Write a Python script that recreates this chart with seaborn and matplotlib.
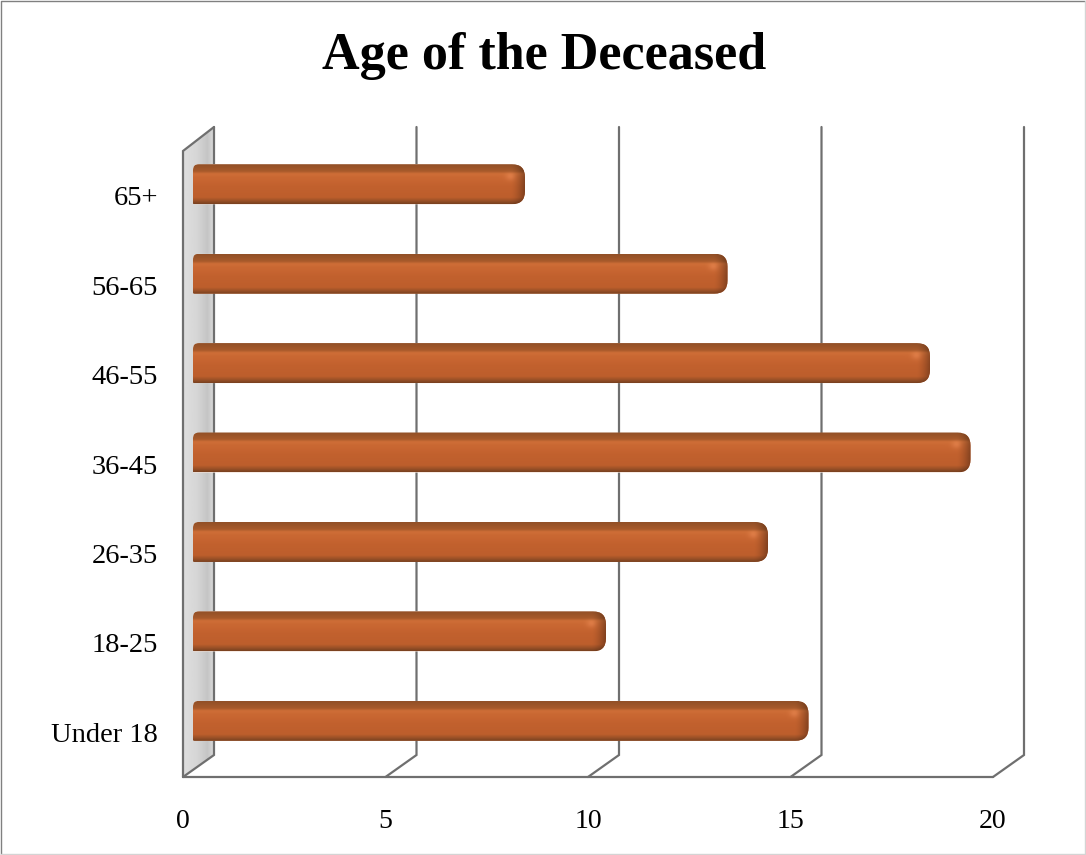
import numpy as np
import pandas as pd
import seaborn as sns
import matplotlib
matplotlib.use("Agg")
import matplotlib.pyplot as plt
from matplotlib.path import Path
from matplotlib.patches import PathPatch, Polygon
from matplotlib.lines import Line2D
from matplotlib.transforms import IdentityTransform

categories = ["65+", "56-65", "46-55", "36-45", "26-35", "18-25", "Under 18"]
deceased = [8, 13, 18, 19, 14, 10, 15]
x_ticks = [0, 5, 10, 15, 20]
title = "Age of the Deceased"

LINE = "#6f6f6f"
BAR = "#c3622e"

sns.set_theme(style="white")
plt.rcParams["font.family"] = ["Liberation Serif", "DejaVu Serif"]

W, H = 1086, 855
fig = plt.figure(figsize=(W / 100, H / 100), dpi=100, facecolor="white")
ax = fig.add_axes([183 / W, (H - 777) / H, 810 / W, 626 / H])

df = pd.DataFrame({"age": categories, "n": deceased})
sns.barplot(data=df, x="n", y="age", order=categories, color=BAR, saturation=1,
            width=40 / 89.43, ax=ax, zorder=5)
ax.set_xlim(0, 20)
ax.set_ylim(6.5, -0.5)
ax.set_xlabel("")
ax.set_ylabel("")
ax.set_xticks(x_ticks)
ax.tick_params(axis="x", length=0, pad=23, labelsize=20, labelcolor="black")
ax.tick_params(axis="y", length=0, pad=18, labelsize=20.5, labelcolor="black")
for s in ax.spines.values():
    s.set_visible(False)

# projection of the chart's depth, in data units of the two scales
ux, uy = 810 / 20, 626 / 7
DX = 31 / ux
DY_TOP = 24 / uy
DY_BOT = 22 / uy
y_top, y_bot = -0.5, 6.5

# side wall
wall_pts = [(0, y_top), (DX, y_top - DY_TOP), (DX, y_bot - DY_BOT), (0, y_bot)]
stops_x = [0, 0.45, 0.8, 1]
wall_vals = [0.87, 0.84, 0.77, 0.86]
grad = np.interp(np.linspace(0, 1, 64), stops_x, wall_vals)[None, :]
im = ax.imshow(grad, cmap="gray", vmin=0, vmax=1, aspect="auto", zorder=1,
               extent=(0, DX, y_bot, y_top - DY_TOP), interpolation="bilinear")
wall = Polygon(wall_pts, closed=True, transform=ax.transData, fc="none", ec="none",
               clip_on=False)
ax.add_patch(wall)
im.set_clip_path(wall)
im.set_clip_box(fig.bbox)
ax.set_xlim(0, 20)
ax.set_ylim(6.5, -0.5)

line_kw = dict(color=LINE, lw=1.6, clip_on=False, zorder=2, solid_joinstyle="miter")
for t in x_ticks:
    ax.plot([t, t + DX, t + DX], [y_bot, y_bot - DY_BOT, y_top - DY_TOP], **line_kw)
ax.plot([0, 0, DX], [y_bot, y_top, y_top - DY_TOP], **line_kw)
ax.plot([0, 20], [y_bot, y_bot], **line_kw)

# bars: same data, shifted into the chart's depth and shaded
OX, OY = 10 / ux, -11.5 / uy
CAP = 8 / ux
fig.canvas.draw()
v_stops = [0, 0.17, 0.24, 0.33, 0.55, 0.84, 0.93, 1]
v_cols = np.array([[0x92, 0x50, 0x27], [0xa8, 0x5a, 0x2b], [0xce, 0x6e, 0x37],
                   [0xca, 0x68, 0x33], [0xc2, 0x61, 0x2e], [0xbd, 0x5e, 0x2c],
                   [0x9a, 0x50, 0x27], [0x7c, 0x42, 0x20]]) / 255


def rounded(x0, x1, y0, y1):
    """Outline in display pixels (y0 is the lower edge)."""
    tl, tr, br, bl = 6, 13, 13, 1
    verts = [(x0 + bl, y0), (x1 - br, y0), (x1, y0), (x1, y0 + br), (x1, y1 - tr),
             (x1, y1), (x1 - tr, y1), (x0 + tl, y1), (x0, y1), (x0, y1 - tl),
             (x0, y0 + bl), (x0, y0), (x0 + bl, y0), (x0 + bl, y0)]
    codes = [Path.MOVETO, Path.LINETO, Path.CURVE3, Path.CURVE3, Path.LINETO,
             Path.CURVE3, Path.CURVE3, Path.LINETO, Path.CURVE3, Path.CURVE3,
             Path.LINETO, Path.CURVE3, Path.CURVE3, Path.CLOSEPOLY]
    return Path(verts, codes)


for bar in list(ax.patches):
    if bar is wall:
        continue
    x, y, w, h = bar.get_x(), bar.get_y(), bar.get_width(), bar.get_height()
    xa, xb = x + OX, x + w + OX + CAP
    ya, yb = y + OY, y + h + OY          # ya is the upper edge on screen
    bar.set_x(xa)
    bar.set_y(ya)
    bar.set_width(xb - xa)
    (px0, py1), (px1, py0) = ax.transData.transform([(xa, ya), (xb, yb)])
    rows, cols = 40, int(round(px1 - px0))
    t = np.linspace(0, 1, rows)
    col = np.stack([np.interp(t, v_stops, v_cols[:, k]) for k in range(3)], axis=1)
    img = np.repeat(col[:, None, :], cols, axis=1)
    xs = np.arange(cols) - cols
    # shading of the rounded end
    f = np.clip((xs + 15) / 15, 0, 1)
    img *= (1 - 0.36 * f ** 1.6)[None, :, None]
    yy, xx = np.mgrid[0:rows, 0:cols]
    glow = np.exp(-(((xx - (cols - 15)) / 5.0) ** 2 + ((yy - 12) / 4.0) ** 2))
    img = np.clip(img + 0.07 * glow[:, :, None], 0, 1)
    shape = PathPatch(rounded(px0, px1, py0, py1), transform=IdentityTransform(),
                      fc="none", ec="none")
    ax.add_patch(shape)
    bar.set_clip_path(shape)
    art = ax.imshow(img, aspect="auto", extent=(xa, xb, yb, ya), zorder=6,
                    interpolation="bilinear")
    art.set_clip_path(shape)

ax.set_xlim(0, 20)
ax.set_ylim(6.5, -0.5)

fig.text(544 / W, 1 - 56 / H, title, ha="center", va="center", fontsize=37.5,
         fontweight="bold", color="black")

# picture frame
fig.add_artist(Line2D([0.5 / W, 0.5 / W, 1085 / W], [0.5 / H, 1 - 1 / H, 1 - 1 / H],
                      transform=fig.transFigure, color="#808080", lw=1))
fig.add_artist(Line2D([0.5 / W, 1085 / W, 1085 / W], [1.0 / H, 1.0 / H, 1 - 1 / H],
                      transform=fig.transFigure, color="#d4d4d4", lw=1))

fig.savefig("out.png", dpi=100, facecolor="white")
